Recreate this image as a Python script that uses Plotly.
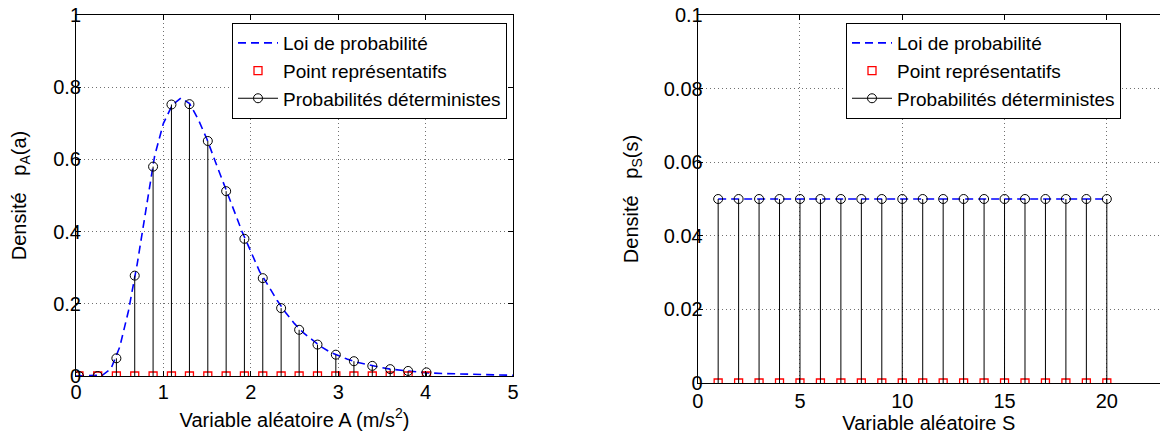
import plotly.graph_objects as go

# ---- Left panel data (variable A) ----
a_curve_x = [0.0, 0.1, 0.2, 0.3, 0.4, 0.5, 0.6, 0.7, 0.8, 0.9, 1.0, 1.1, 1.2, 1.3, 1.4,
             1.5, 1.6, 1.7, 1.8, 1.9, 2.0, 2.1, 2.2, 2.3, 2.4, 2.5, 2.6, 2.7, 2.8, 2.9,
             3.0, 3.1, 3.2, 3.3, 3.4, 3.5, 3.6, 3.7, 3.8, 3.9, 4.0, 4.2, 4.4, 4.6, 4.8, 5.0]
a_curve_y = [0.0, 0.0, 0.0, 0.002, 0.02, 0.08, 0.18, 0.31, 0.46, 0.61, 0.70, 0.75, 0.77, 0.755, 0.71,
             0.655, 0.59, 0.525, 0.46, 0.40, 0.345, 0.29, 0.25, 0.21, 0.175, 0.145, 0.12, 0.10, 0.082, 0.067,
             0.056, 0.047, 0.039, 0.033, 0.027, 0.023, 0.019, 0.016, 0.013, 0.011, 0.009, 0.007, 0.005, 0.004, 0.003, 0.002]

a_points = [0.034, 0.248, 0.462, 0.672, 0.882, 1.092, 1.298, 1.508, 1.718, 1.927,
            2.137, 2.347, 2.553, 2.763, 2.973, 3.18, 3.39, 3.595, 3.80, 4.01]
a_probs = [0.0, 0.0, 0.049, 0.278, 0.58, 0.752, 0.753, 0.651, 0.512, 0.380,
           0.271, 0.188, 0.128, 0.087, 0.059, 0.041, 0.028, 0.019, 0.014, 0.010]

# ---- Right panel data (variable S) ----
s_points = [1, 2, 3, 4, 5, 6, 7, 8, 9, 10, 11, 12, 13, 14, 15, 16, 17, 18, 19, 20]
s_probs = [0.05] * 20

labels = ["Loi de probabilité", "Point représentatifs", "Probabilités déterministes"]

FONT = "Liberation Sans, Arial, Helvetica, sans-serif"
BLUE = "rgb(0,0,255)"
RED = "rgb(255,0,0)"

fig = go.Figure()


def stems(xs, ys):
    sx, sy = [], []
    for x, y in zip(xs, ys):
        sx += [x, x, None]
        sy += [0, y, None]
    return sx, sy


def add_panel(xs_curve, ys_curve, px, py, xa, ya, legend):
    fig.add_trace(go.Scatter(x=xs_curve, y=ys_curve, mode="lines", name=labels[0],
                             line=dict(color=BLUE, width=1.6, dash="8px,5px"),
                             xaxis=xa, yaxis=ya, legend=legend))
    fig.add_trace(go.Scatter(x=px, y=[0] * len(px), mode="markers", name=labels[1],
                             marker=dict(symbol="square-open", size=8, color=RED,
                                         line=dict(width=1.3, color=RED)),
                             xaxis=xa, yaxis=ya, legend=legend))
    sx, sy = stems(px, py)
    fig.add_trace(go.Scatter(x=sx, y=sy, mode="lines", showlegend=False,
                             line=dict(color="black", width=1),
                             xaxis=xa, yaxis=ya, legend=legend))
    fig.add_trace(go.Scatter(x=px, y=py, mode="markers", showlegend=False,
                             marker=dict(symbol="circle-open", size=9, color="black",
                                         line=dict(width=1, color="black")),
                             xaxis=xa, yaxis=ya, legend=legend))
    fig.add_trace(go.Scatter(x=[None], y=[None], mode="lines+markers", name=labels[2],
                             line=dict(color="black", width=1),
                             marker=dict(symbol="circle-open", size=9, color="black",
                                         line=dict(width=1, color="black")),
                             xaxis=xa, yaxis=ya, legend=legend))


add_panel(a_curve_x, a_curve_y, a_points, a_probs, "x", "y", "legend")
add_panel(s_points, s_probs, s_points, s_probs, "x2", "y2", "legend2")

axis_common = dict(showline=True, linecolor="black", linewidth=1, ticks="inside",
                   ticklen=5, tickcolor="black", showgrid=True, gridcolor="#707070",
                   griddash="1px,3px", gridwidth=1, zeroline=False, automargin=False,
                   ticklabeloverflow="allow",
                   tickfont=dict(family=FONT, size=20, color="black"),
                   title_font=dict(family=FONT, size=20, color="black"))

# body margin is removed by the post script, so figure pixels = screen pixels
W, H = 1160, 435


def px_x(p):
    return p / W


def px_y(p):
    return (H - p) / H


LEG_FONT = 19
fig.update_layout(
    width=W, height=H, margin=dict(l=0, r=0, t=0, b=0, autoexpand=False),
    paper_bgcolor="white", plot_bgcolor="white",
    font=dict(family=FONT, size=20, color="black"),
    xaxis=dict(axis_common, domain=[px_x(76), px_x(513)], range=[0, 5], dtick=1,
               mirror="ticks", anchor="y", ticklabelstandoff=-2,
               title=dict(text="Variable aléatoire A (m/s<sup>2</sup>)", standoff=10)),
    yaxis=dict(axis_common, domain=[px_y(376), px_y(15)], range=[0, 1], dtick=0.2,
               mirror="ticks", anchor="x", zeroline=True, zerolinecolor="black", zerolinewidth=2,
               ticklabelstandoff=-10,
               title=dict(text="Densité\u00a0\u00a0\u00a0p<sub>A</sub>(a)", standoff=21)),
    xaxis2=dict(axis_common, domain=[px_x(697.7), 1.0], range=[0, 22.6], dtick=5,
                mirror="ticks", anchor="y2", ticklabelstandoff=0,
                title=dict(text="Variable aléatoire S", standoff=0)),
    yaxis2=dict(axis_common, domain=[px_y(383), px_y(15)], range=[0, 0.1], dtick=0.02,
                mirror=False, anchor="x2", zeroline=True, zerolinecolor="black", zerolinewidth=2,
                ticklabelstandoff=-10,
                title=dict(text="Densité\u00a0\u00a0\u00a0p<sub>S</sub>(s)", standoff=19)),
    legend=dict(x=px_x(507), y=px_y(23), xanchor="right", yanchor="top",
                bordercolor="black", borderwidth=1, bgcolor="white",
                font=dict(family=FONT, size=LEG_FONT, color="black"), itemwidth=40,
                tracegroupgap=0),
    legend2=dict(x=px_x(1121), y=px_y(23), xanchor="right", yanchor="top",
                 bordercolor="black", borderwidth=1, bgcolor="white",
                 font=dict(family=FONT, size=LEG_FONT, color="black"), itemwidth=40,
                 tracegroupgap=0),
)

fig.write_html("out.html", config={"displayModeBar": False},
               post_script="document.body.style.margin='0';document.body.style.overflow='hidden';")
